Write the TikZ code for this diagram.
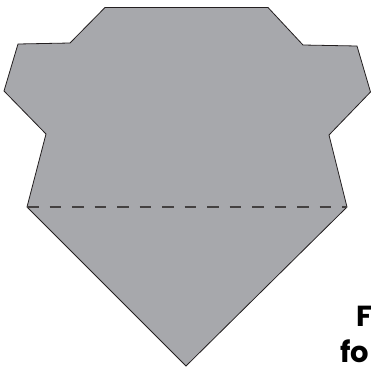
\documentclass[tikz,border=0pt]{standalone}
\usepackage{fontspec}
\newfontfamily\labelfont{Poppins}
\usetikzlibrary{positioning}
\definecolor{shapegrey}{RGB}{167,168,172}
\definecolor{edgedark}{RGB}{35,31,32}

\begin{document}
\begin{tikzpicture}[x=1pt, y=-1pt]
  \tikzset{
    piece/.style={fill=shapegrey, draw=edgedark, line width=0.8pt, line join=miter},
    foldline/.style={draw=edgedark!85, line width=1.1pt, dash pattern=on 11.5pt off 11pt},
    tag/.style={font=\labelfont\bfseries\fontsize{29}{37}\selectfont, text=black, inner sep=0pt}
  }
  \useasboundingbox (0,0) rectangle (371,367);
  % outline of the flat piece
  \draw[piece] (105,7.5) -- (268,7.5) -- (303,45) -- (357,46) -- (370.5,92)
    -- (329,135) -- (347,207) -- (186,366) -- (27,207) -- (46,134)
    -- (4,91) -- (18,44) -- (70,43) -- cycle;
  \coordinate (foldL) at (27,207);
  \coordinate (foldR) at (347,207);
  \draw[foldline] (foldL) -- (foldR);
  % cut-off caption at the right
  \node[tag, anchor=base west] (capA) at (356,326) {F};
  \node[tag, anchor=base west] (capB) at (340,362) {fo};
\end{tikzpicture}
\end{document}
